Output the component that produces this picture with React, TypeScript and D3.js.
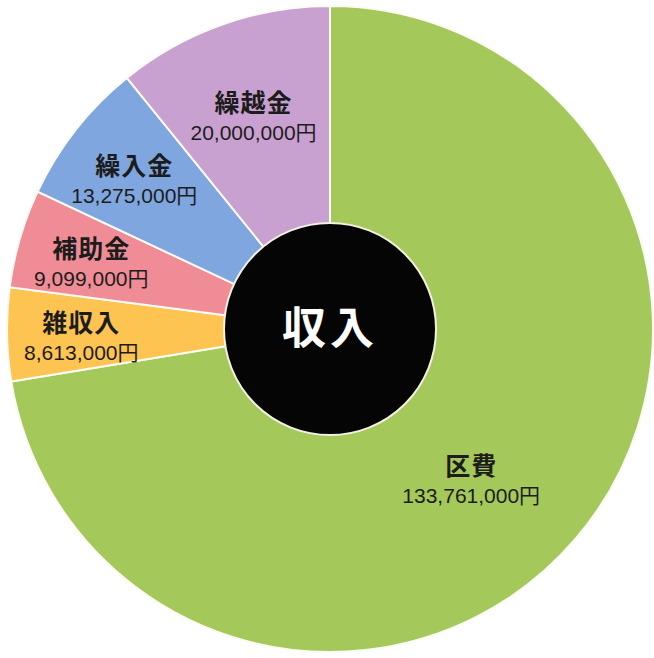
import {arc, pie, PieArcDatum} from "d3";

// 収入の内訳 (円)
const categories = ["区費", "雑収入", "補助金", "繰入金", "繰越金"];
const amounts = [133761000, 8613000, 9099000, 13275000, 20000000];
const valueLabels = ["133,761,000円", "8,613,000円", "9,099,000円", "13,275,000円", "20,000,000円"];
const centerTitle = "収入";

const colors = ["#a5c85a", "#fdc452", "#f08c95", "#7fa6de", "#c9a1d1"];

const W = 654;
const H = 658;
const cx = 330;
const cy = 329;
const outerR = 323;
const innerR = 106;

type Slice = PieArcDatum<number>;

function labelPos(d: Slice): [number, number] {
    const span = d.endAngle - d.startAngle;
    // big slice: label sits closer in and rotated a little toward the bottom
    const r = span > Math.PI ? outerR * 0.63 : span > 0.6 ? outerR * 0.71 : outerR * 0.77;
    const a = (d.startAngle + d.endAngle) / 2 + (span > Math.PI ? 0.1 : 0);
    return [Math.sin(a) * r, -Math.cos(a) * r];
}

export default function App() {
    const slices = pie<number>().sort(null).value(v => v)(amounts);
    const arcGen = arc<Slice>().innerRadius(0).outerRadius(outerR);

    return <svg width={W} height={H} style={{position: "absolute", left: 0, top: 0, background: "#fff"}}>
        <g transform={`translate(${cx},${cy})`}>
            {slices.map((s, i) => (
                <path key={categories[i]} d={arcGen(s) ?? ""} fill={colors[i]} stroke="#fbfbf4" strokeWidth={2}/>
            ))}
            <circle r={innerR} fill="#050505" stroke="#f2f0e2" strokeWidth={2}/>
            <text y={15} textAnchor="middle" fill="#fff" fontSize={44} fontWeight="bold"
                  fontFamily="'Noto Sans CJK JP', sans-serif" letterSpacing={4}>{centerTitle}</text>
            {slices.map((s, i) => {
                const [x, y] = labelPos(s);
                return <g key={`l-${i}`} transform={`translate(${x},${y})`} fill="#1c1c1c" textAnchor="middle">
                    <text y={-1} fontSize={25} fontWeight="bold" letterSpacing={1}
                          fontFamily="'Noto Sans CJK JP', sans-serif">
                        {categories[i]}
                    </text>
                    <text y={27} fontSize={21} fontFamily="'Liberation Sans', 'Noto Sans CJK JP', sans-serif">
                        {valueLabels[i]}
                    </text>
                </g>;
            })}
        </g>
    </svg>;
}
